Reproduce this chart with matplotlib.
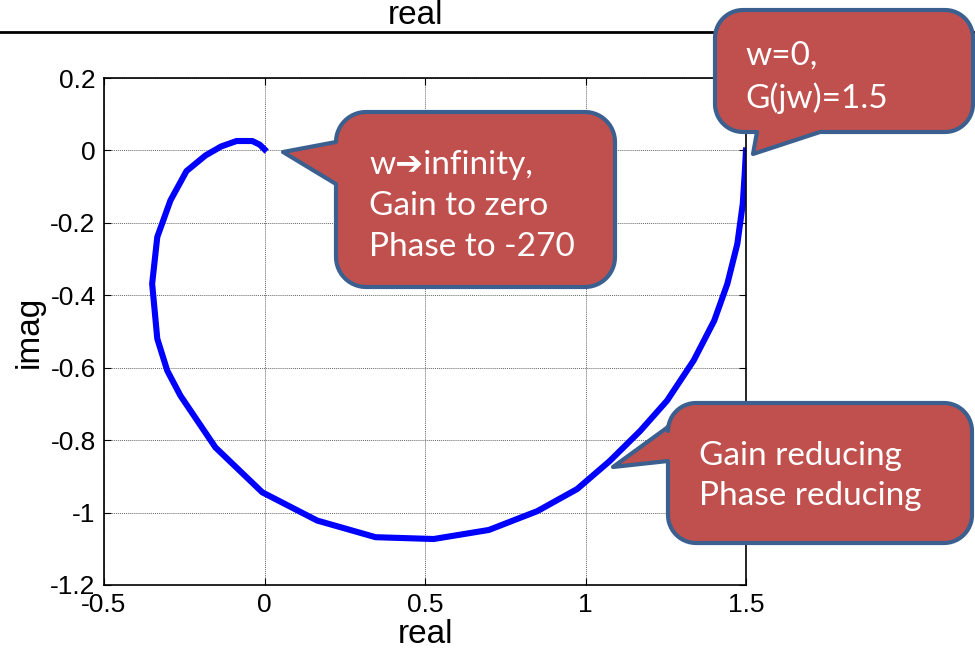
import numpy as np
import matplotlib
matplotlib.use("Agg")
import matplotlib.pyplot as plt
from matplotlib.patches import Polygon
from matplotlib.lines import Line2D

# Puntos del diagrama de Nyquist (de w=0 hacia w->inf)
re_vals = [1.500, 1.496, 1.490, 1.473, 1.442, 1.401, 1.337, 1.254, 1.171, 1.075,
           0.974, 0.850, 0.699, 0.527, 0.346, 0.164, -0.007, -0.153, -0.262,
           -0.303, -0.334, -0.350, -0.334, -0.293, -0.243, -0.184, -0.135,
           -0.087, -0.038, -0.015, 0.000]
im_vals = [0.000, -0.064, -0.147, -0.258, -0.368, -0.470, -0.580, -0.691, -0.774,
           -0.858, -0.935, -0.996, -1.048, -1.073, -1.068, -1.022, -0.944, -0.820,
           -0.677, -0.608, -0.520, -0.368, -0.239, -0.138, -0.057, -0.014, 0.011,
           0.026, 0.026, 0.016, 0.003]

x_ticks = [-0.5, 0, 0.5, 1, 1.5]
x_labels = ["-0.5", "0", "0.5", "1", "1.5"]
y_ticks = [-1.2, -1.0, -0.8, -0.6, -0.4, -0.2, 0, 0.2]
y_labels = ["-1.2", "-1", "-0.8", "-0.6", "-0.4", "-0.2", "0", "0.2"]

textos = ["w\u2794infinity,\nGain to zero\nPhase to -270",
          "w=0,\nG(jw)=1.5",
          "Gain reducing\nPhase reducing"]

W, H = 975, 652
fig = plt.figure(figsize=(W / 100, H / 100), dpi=100)
ax = fig.add_axes([104 / W, 1 - 585 / H, (746 - 104) / W, (585 - 78) / H])

ax.plot(re_vals, im_vals, color="#0000ff", linewidth=4.4, solid_joinstyle="round")
ax.set_xlim(-0.5, 1.5)
ax.set_ylim(-1.2, 0.2)
ax.set_xticks(x_ticks)
ax.set_xticklabels(x_labels)
ax.set_yticks(y_ticks)
ax.set_yticklabels(y_labels)
ax.grid(True, color="#666666", linestyle=(0, (1, 1)), linewidth=0.7)
ax.tick_params(direction="in", length=5, top=True, right=True, labelsize=19, pad=6)
for lab in ax.get_xticklabels() + ax.get_yticklabels():
    lab.set_fontfamily("Liberation Sans")
for s in ax.spines.values():
    s.set_linewidth(1.2)
ax.set_xlabel("real", fontsize=24, fontfamily="Liberation Sans", labelpad=1)
ax.set_ylabel("imag", fontsize=24, fontfamily="Liberation Sans", labelpad=4)


def px(x, y):
    return (x / W, 1 - y / H)


# restos de la figura anterior (arriba)
fig.add_artist(Line2D([0, 1], [1 - 32 / H] * 2, color="black", linewidth=2,
                      transform=fig.transFigure))
fig.text(*px(415, 16), "real", fontsize=24, fontfamily="Liberation Sans",
         ha="center", va="center")


def globo(l, t, r, b, rad, lado, b1, b2, punta):
    pts = []

    def arco(cx, cy, a0, a1):
        for a in np.linspace(a0, a1, 14):
            pts.append((cx + rad * np.cos(a), cy + rad * np.sin(a)))

    arco(l + rad, t + rad, np.pi, 1.5 * np.pi)
    arco(r - rad, t + rad, 1.5 * np.pi, 2 * np.pi)
    arco(r - rad, b - rad, 0, 0.5 * np.pi)
    if lado == "abajo":
        pts += [(b2, b), punta, (b1, b)]
    arco(l + rad, b - rad, 0.5 * np.pi, np.pi)
    if lado == "izq":
        pts += [(l, b2), punta, (l, b1)]
    poly = Polygon([px(*p) for p in pts], closed=True, facecolor="#c0504d",
                   edgecolor="#3b6090", linewidth=3, joinstyle="round",
                   transform=fig.transFigure, zorder=5)
    fig.add_artist(poly)


globo(336, 112, 615, 287, 30, "izq", 142, 184, (283, 152))
globo(715, 10, 973, 132, 28, "abajo", 757, 820, (753, 154))
globo(668, 403, 972, 543, 28, "izq", 427, 461, (613, 467))

fuente = ["Lato", "DejaVu Sans"]
fig.text(*px(369, 206), textos[0], fontsize=24, family=fuente, color="white",
         ha="left", va="center", linespacing=1.45, zorder=6)
fig.text(*px(745, 77), textos[1], fontsize=24, family=fuente, color="white",
         ha="left", va="center", linespacing=1.45, zorder=6)
fig.text(*px(699, 476), textos[2], fontsize=24, family=fuente, color="white",
         ha="left", va="center", linespacing=1.45, zorder=6)

fig.savefig("out.png", dpi=100)
